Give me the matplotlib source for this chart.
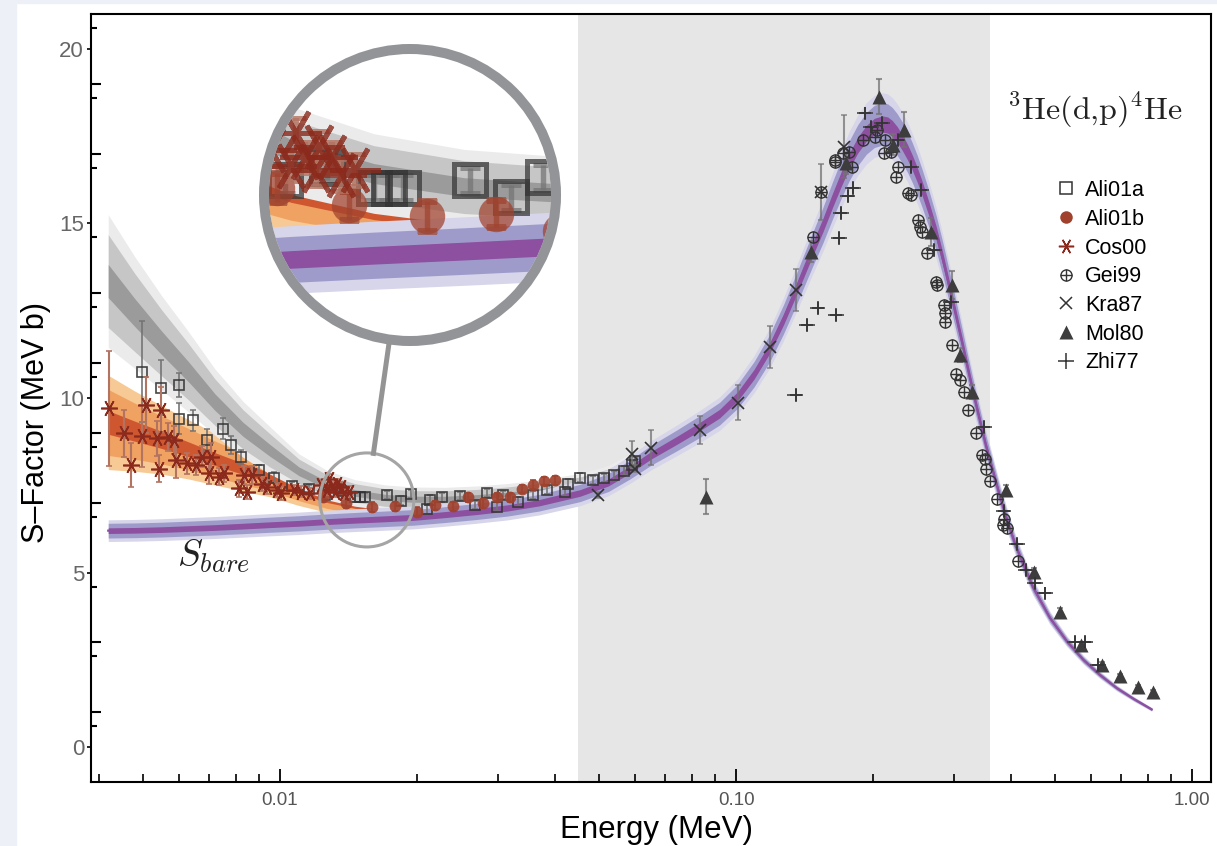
import matplotlib
matplotlib.use('Agg')
import matplotlib.pyplot as plt
import numpy as np
from matplotlib.lines import Line2D
from matplotlib.patches import Circle, Ellipse, Rectangle
from matplotlib.ticker import NullFormatter

plt.rcParams['font.family'] = ['Liberation Sans', 'DejaVu Sans']

W, H = 1217, 846

# fitted S-factor curves on a common energy grid (MeV)
E_FIT = [0.0042, 0.0048, 0.0055, 0.0063, 0.0072, 0.0083, 0.0095, 0.011, 0.0127, 0.0146,
         0.017, 0.0196, 0.023, 0.027, 0.0315, 0.037, 0.0455, 0.0525, 0.0585, 0.0653,
         0.074, 0.0832, 0.092, 0.1008, 0.1095, 0.1184, 0.127, 0.1356, 0.147, 0.155,
         0.1626, 0.17, 0.1771, 0.185, 0.193, 0.201, 0.2092, 0.215, 0.22, 0.2255,
         0.2314, 0.2375, 0.2433, 0.2495, 0.2559, 0.265, 0.2747, 0.284, 0.2933, 0.303,
         0.3131, 0.324, 0.336, 0.3533, 0.3785, 0.395, 0.411, 0.4477, 0.4878, 0.5314,
         0.5775, 0.6276, 0.6838, 0.7447, 0.8154]
S_BARE = [6.20, 6.21, 6.23, 6.26, 6.29, 6.33, 6.37, 6.41, 6.46, 6.50,
          6.54, 6.58, 6.66, 6.75, 6.85, 7.00, 7.28, 7.58, 7.95, 8.37,
          8.78, 9.18, 9.55, 10.05, 10.68, 11.42, 12.25, 13.12, 14.24, 14.95,
          15.65, 16.27, 16.80, 17.25, 17.58, 17.78, 17.85, 17.82, 17.72, 17.55,
          17.32, 17.05, 16.75, 16.40, 16.00, 15.40, 14.72, 13.98, 13.20, 12.40,
          11.58, 10.70, 9.80, 8.62, 7.20, 6.40, 5.74, 4.58, 3.70, 3.03,
          2.50, 2.07, 1.69, 1.38, 1.08]
BARE_REL = [0.013, 0.034, 0.05]          # core, inner, outer relative half widths

# screened fit to Ali01b / Cos00 (orange), first grid points only
S_COS = [9.30, 9.05, 8.80, 8.53, 8.25, 7.97, 7.72, 7.38, 7.10, 6.92,
         6.80, 6.76, 6.78, 6.84, 6.92, 7.05]
S_COS_W = [1.35, 1.15, 0.98, 0.85, 0.74, 0.64, 0.55, 0.46, 0.38, 0.32,
           0.27, 0.24, 0.22, 0.20, 0.20, 0.20]
# screened fit to Ali01a (gray)
S_ALI = [13.35, 12.45, 11.58, 10.75, 9.88, 9.10, 8.50, 7.90, 7.50, 7.28,
         7.15, 7.10, 7.10, 7.15, 7.22, 7.32, 7.50, 7.72, 8.03]
S_ALI_W = [1.9, 1.6, 1.35, 1.15, 0.95, 0.80, 0.68, 0.50, 0.42, 0.38,
           0.36, 0.35, 0.34, 0.33, 0.33, 0.33, 0.34, 0.35, 0.37]
BAND_FRAC = [0.25, 0.7, 1.0]

E_ALI01A = [0.00499, 0.00548, 0.00601, 0.00599, 0.00644, 0.00690, 0.00751, 0.00779,
            0.00819, 0.00899, 0.00969, 0.01063, 0.01160, 0.01255, 0.01348, 0.01458,
            0.01497, 0.01533, 0.01716, 0.01838, 0.0194, 0.02099, 0.02134, 0.02264,
            0.02483, 0.02679, 0.0284, 0.02987, 0.03088, 0.03331, 0.03591, 0.03843,
            0.04214, 0.04285, 0.04545, 0.0485, 0.0513, 0.0539, 0.0567, 0.0591, 0.0600]
S_ALI01A = [10.75, 10.30, 10.37, 9.41, 9.36, 8.81, 9.12, 8.66,
            8.31, 7.93, 7.72, 7.48, 7.38, 7.22, 7.34, 7.15,
            7.15, 7.15, 7.22, 7.06, 7.25, 6.81, 7.09, 7.15,
            7.19, 6.93, 7.27, 6.89, 7.22, 7.03, 7.22, 7.36,
            7.32, 7.55, 7.72, 7.65, 7.70, 7.78, 7.92, 8.08, 8.20]
D_ALI01A = [1.45, 0.80, 0.35, 0.45, 0.30, 0.30, 0.30, 0.25,
            0.20, 0.15, 0.15, 0.12, 0.12, 0.12, 0.12, 0.12,
            0.12, 0.12, 0.12, 0.12, 0.12, 0.12, 0.12, 0.12,
            0.12, 0.12, 0.12, 0.12, 0.12, 0.12, 0.12, 0.12,
            0.12, 0.12, 0.12, 0.12, 0.12, 0.12, 0.12, 0.12, 0.12]

E_ALI01B = [0.01240, 0.01398, 0.01594, 0.01790, 0.01996, 0.02189, 0.02397, 0.02589,
            0.02792, 0.02987, 0.03193, 0.03389, 0.03591, 0.03793, 0.03998]
S_ALI01B = [7.15, 6.98, 6.88, 6.90, 6.74, 6.93, 6.90, 7.15,
            6.98, 7.16, 7.15, 7.39, 7.52, 7.62, 7.64]
D_ALI01B = [0.14, 0.14, 0.14, 0.13, 0.13, 0.13, 0.13, 0.12,
            0.12, 0.12, 0.12, 0.12, 0.12, 0.12, 0.12]

E_COS00 = [0.00422, 0.00455, 0.00471, 0.00498, 0.00508, 0.00538, 0.00543, 0.00548,
           0.00568, 0.00586, 0.00590, 0.00624, 0.00653, 0.00676, 0.00705, 0.00699,
           0.00735, 0.00753, 0.00812, 0.00833, 0.00869, 0.00848, 0.00914, 0.00937,
           0.00986, 0.01003, 0.01072, 0.01109, 0.01166, 0.01227, 0.01269, 0.0128,
           0.0130, 0.01323, 0.0133, 0.0136, 0.01379, 0.01414]
S_COS00 = [9.70, 8.99, 8.08, 8.91, 9.80, 8.84, 7.98, 9.67,
           8.89, 8.80, 8.22, 8.13, 8.08, 8.32, 8.32, 7.84,
           7.75, 7.84, 7.41, 7.79, 7.79, 7.32, 7.55, 7.46,
           7.36, 7.27, 7.36, 7.32, 7.27, 7.51, 7.36, 7.67,
           7.44, 7.32, 7.54, 7.44, 7.27, 7.32]
D_COS00 = [1.65, 0.67, 0.62, 0.90, 0.80, 0.50, 0.40, 0.65,
           0.40, 0.40, 0.50, 0.30, 0.30, 0.30, 0.40, 0.30,
           0.25, 0.25, 0.25, 0.25, 0.25, 0.20, 0.20, 0.20,
           0.20, 0.20, 0.15, 0.15, 0.15, 0.15, 0.15, 0.15,
           0.15, 0.15, 0.15, 0.15, 0.15, 0.15]

E_GEI99 = [0.1473, 0.1536, 0.1645, 0.1651, 0.1713, 0.1771, 0.1796, 0.1895, 0.2019, 0.2037,
           0.2124, 0.2114, 0.2186, 0.2260, 0.2241, 0.2388, 0.2417, 0.2500, 0.2530, 0.2555,
           0.2628, 0.2742, 0.2751, 0.2859, 0.2874, 0.2874, 0.2981, 0.3032, 0.3094, 0.3162,
           0.3231, 0.3364, 0.3468, 0.3520, 0.3533, 0.3610, 0.3735, 0.3849, 0.3862, 0.3926,
           0.4151]
S_GEI99 = [14.62, 15.91, 16.82, 16.77, 17.01, 17.06, 16.63, 17.39, 17.49, 17.68,
           17.39, 17.01, 17.06, 16.63, 16.34, 15.87, 15.82, 15.10, 14.91, 14.76,
           14.15, 13.33, 13.24, 12.66, 12.43, 12.19, 11.52, 10.70, 10.52, 10.18,
           9.66, 8.99, 8.37, 8.24, 7.98, 7.62, 7.11, 6.36, 6.53, 6.29,
           5.34]

E_KRA87 = [0.0498, 0.0590, 0.0600, 0.0652, 0.0832, 0.1009, 0.1188, 0.1354, 0.1536, 0.1722]
S_KRA87 = [7.22, 8.40, 7.98, 8.58, 9.08, 9.87, 11.47, 13.10, 15.91, 17.20]
D_KRA87 = [0.08, 0.37, 0.10, 0.50, 0.40, 0.50, 0.60, 0.60, 0.80, 0.90]

E_MOL80 = [0.0858, 0.1461, 0.1741, 0.2061, 0.2203, 0.2337, 0.2675, 0.2981, 0.3094,
           0.3287, 0.3902, 0.4505, 0.5133, 0.5708, 0.6339, 0.6934, 0.7613, 0.8196]
S_MOL80 = [7.17, 14.19, 16.72, 18.63, 17.25, 17.68, 14.76, 13.24, 11.23,
           10.18, 7.36, 5.02, 3.88, 2.92, 2.35, 2.03, 1.73, 1.58]
D_MOL80 = [0.50, 0.30, 0.30, 0.50, 0.30, 0.50, 0.40, 0.40, 0.20,
           0.20, 0.15, 0.10, 0.10, 0.10, 0.08, 0.06, 0.05, 0.05]

E_ZHI77 = [0.1350, 0.1429, 0.1510, 0.1656, 0.1684, 0.1699, 0.1757, 0.1808, 0.1920, 0.1976,
           0.2089, 0.2260, 0.2417, 0.2543, 0.2719, 0.2958, 0.3498, 0.3862, 0.4130, 0.4332,
           0.4519, 0.4757, 0.5537, 0.5823, 0.6232]
S_ZHI77 = [10.09, 12.09, 12.57, 12.38, 14.57, 15.29, 15.79, 16.01, 18.15, 17.77,
           17.87, 17.39, 16.63, 15.96, 14.24, 12.76, 9.18, 6.77, 5.83, 5.07,
           4.69, 4.40, 3.02, 3.02, 2.35]
ZHI_XREL = 0.04
ZHI_YERR = 0.2

GRAY_REGION = (0.0451, 0.36)
ZOOM_E, ZOOM_S = 0.0155, 7.08

PURPLE = ['#8d4f9f', '#9e9bcb', '#d6d5ea']
ORANGE = ['#cf5730', '#f0a262', '#f7c994']
GRAY = ['#9b9b9b', '#c6c6c6', '#ebebeb']
DARK = '#333333'
BROWN = '#a0412d'
RUST = '#8b2a1c'


def draw_fits(a):
    e = np.array(E_FIT)
    sb = np.array(S_BARE)
    n = len(S_COS)
    sc = np.array(S_COS)
    for frac, col in zip(BAND_FRAC[::-1], ORANGE[::-1]):
        w = frac * np.array(S_COS_W)
        a.fill_between(e[:n], sc - w, sc + w, color=col, lw=0, zorder=1)
    n = len(S_ALI)
    sa = np.array(S_ALI)
    for frac, col in zip(BAND_FRAC[::-1], GRAY[::-1]):
        w = frac * np.array(S_ALI_W)
        a.fill_between(e[:n], sa - w, sa + w, color=col, lw=0, zorder=2)
    for rel, col in zip(BARE_REL[::-1], PURPLE[::-1]):
        a.fill_between(e, sb * (1 - rel), sb * (1 + rel), color=col, lw=0, zorder=3)
    a.plot(e, sb, color=PURPLE[0], lw=1.6, zorder=3.1)


def draw_data(a, k=1.0, alpha=1.0):
    eb_gray = (0.45, 0.45, 0.45, 0.75 * alpha)
    a.errorbar(E_ALI01A, S_ALI01A, yerr=D_ALI01A, ls='none', marker='s', ms=7.5 * k,
               mfc='none', mec=DARK, mew=1.2 * k, ecolor=eb_gray, elinewidth=1.3 * k,
               capsize=2.5 * k, capthick=1.3 * k, alpha=0.9 * alpha, zorder=5)
    a.errorbar(E_ALI01B, S_ALI01B, yerr=D_ALI01B, ls='none', marker='o', ms=8.5 * k,
               mfc=BROWN, mec='none', ecolor=(0.62, 0.3, 0.22, 0.8 * alpha),
               elinewidth=1.3 * k, capsize=2.5 * k, capthick=1.3 * k,
               alpha=0.9 * alpha, zorder=6)
    a.errorbar(E_COS00, S_COS00, yerr=D_COS00, ls='none', marker=(6, 2, 90), ms=12 * k,
               mec=RUST, mew=1.2 * k, ecolor=(0.7, 0.45, 0.38, 0.85 * alpha),
               elinewidth=1.5 * k, capsize=2.5 * k, capthick=1.5 * k,
               alpha=alpha, zorder=7)
    a.errorbar(E_KRA87, S_KRA87, yerr=D_KRA87, ls='none', marker='x', ms=9 * k,
               mec=DARK, mew=1.2 * k, ecolor=eb_gray, elinewidth=1.5 * k,
               capsize=2.5 * k, capthick=1.5 * k, zorder=6)
    a.errorbar(E_MOL80, S_MOL80, yerr=D_MOL80, ls='none', marker='^', ms=9.5 * k,
               mfc='#3d3d3d', mec='none', ecolor=eb_gray, elinewidth=1.5 * k,
               capsize=2.5 * k, capthick=1.5 * k, zorder=6)
    a.plot(E_GEI99, S_GEI99, ls='none', marker='o', ms=8 * k, mfc='none', mec=DARK,
           mew=1.0 * k, zorder=6)
    a.plot(E_GEI99, S_GEI99, ls='none', marker='+', ms=8 * k, mec=DARK,
           mew=1.0 * k, zorder=6)
    e = np.array(E_ZHI77)
    a.errorbar(e, S_ZHI77, xerr=ZHI_XREL * e, yerr=ZHI_YERR, ls='none', marker='+',
               ms=9 * k, mec=DARK, mew=1.2 * k, ecolor='#444444', elinewidth=1.2 * k,
               capsize=0, zorder=6)


fig = plt.figure(figsize=(W / 100, H / 100), dpi=100)
fig.add_artist(Rectangle((0, 0), 16 / W, 1, transform=fig.transFigure,
                         color='#edf0f6', zorder=-1))
fig.add_artist(Rectangle((0, 1 - 3 / H), 1, 3 / H, transform=fig.transFigure,
                         color='#edf0f6', zorder=-1))

ax = fig.add_axes([91 / W, 1 - 782 / H, 1120 / W, 768 / H])
ax.set_xscale('log')
ax.set_xlim(0.00385, 1.10)
ax.set_ylim(-1.0, 21.0)

ax.axvspan(*GRAY_REGION, color='#e6e6e6', lw=0, zorder=0)
draw_fits(ax)
draw_data(ax)

ax.set_xticks([0.01, 0.1, 1.0], ['0.01', '0.10', '1.00'])
ax.xaxis.set_minor_formatter(NullFormatter())
ax.tick_params(axis='x', which='major', direction='in', length=9.5, width=1.3,
               labelsize=13.5, labelcolor='#555555', pad=7)
ax.tick_params(axis='x', which='minor', direction='in', length=5.5, width=1.2)
ax.set_yticks([0, 5, 10, 15, 20])
ax.set_yticks(np.arange(1, 21, 2), minor=True)
ax.tick_params(axis='y', which='major', direction='out', length=3, width=1.2,
               labelsize=16, labelcolor='#666666', pad=2)
ax.tick_params(axis='y', which='minor', direction='in', length=7.5, width=1.5)
sec = ax.secondary_yaxis('left')
sec.set_yticks(np.arange(0.6, 21, 2))
sec.tick_params(direction='in', length=4.5, width=1.5, labelleft=False)
sec.spines['left'].set_visible(False)
for sp in ax.spines.values():
    sp.set_linewidth(1.5)

ax.set_xlabel('Energy (MeV)', fontsize=22.5)
ax.xaxis.set_label_coords(0.505, -0.043)
ax.set_ylabel('S\u2013Factor (MeV b)', fontsize=22)
ax.yaxis.set_label_coords(-0.036, 0.468)

ax.text(0.00595, 5.16, r'$S_{bare}$', fontsize=27, math_fontfamily='cm',
        va='baseline', color='#222222')
fig.text(1095 / W, 1 - 110 / H, r'$^{3}\mathrm{He(d{,}p)}^{4}\mathrm{He}$',
         ha='center', va='center', fontsize=23, math_fontfamily='cm', color='#222222')

handles = [
    Line2D([], [], ls='none', marker='s', ms=8.5, mfc='none', mec=DARK, mew=1.1),
    Line2D([], [], ls='none', marker='o', ms=9, mfc=BROWN, mec='none'),
    Line2D([], [], ls='none', marker=(6, 2, 90), ms=11, mec=RUST, mew=1.1),
    (Line2D([], [], ls='none', marker='o', ms=8, mfc='none', mec=DARK, mew=1.0),
     Line2D([], [], ls='none', marker='+', ms=8, mec=DARK, mew=1.0)),
    Line2D([], [], ls='none', marker='x', ms=9, mec=DARK, mew=1.1),
    Line2D([], [], ls='none', marker='^', ms=10, mfc='#3d3d3d', mec='none'),
    Line2D([], [], ls='none', marker='+', ms=11, mec=DARK, mew=1.1),
]
labels = ['Ali01a', 'Ali01b', 'Cos00', 'Gei99', 'Kra87', 'Mol80', 'Zhi77']
ax.legend(handles, labels, loc='upper left', bbox_to_anchor=(1055 / W, 1 - 180 / H),
          bbox_transform=fig.transFigure, frameon=False, fontsize=15.5,
          handlelength=1.0, handletextpad=0.4, labelspacing=0.36,
          borderpad=0, borderaxespad=0)

# magnified window drawn as a circular inset
IN_C = (410, 195)
IN_R = 141
ZOOM_R = 47
cx, cy = ax.transData.transform((ZOOM_E, ZOOM_S))
inv = ax.transData.inverted()
e_lo, s_lo = inv.transform((cx - ZOOM_R, cy - ZOOM_R))
e_hi, s_hi = inv.transform((cx + ZOOM_R, cy + ZOOM_R))
mag = IN_R / ZOOM_R

ins = fig.add_axes([(IN_C[0] - IN_R) / W, 1 - (IN_C[1] + IN_R) / H, 2 * IN_R / W, 2 * IN_R / H])
ins.set_xscale('log')
ins.set_xlim(e_lo, e_hi)
ins.set_ylim(s_lo, s_hi)
ins.axis('off')
ins.add_patch(Circle((0.5, 0.5), 0.5, transform=ins.transAxes, fc='white', ec='none', zorder=0))
draw_fits(ins)
draw_data(ins, k=mag, alpha=0.8)
clip = Circle((0.5, 0.5), 0.5, transform=ins.transAxes)
for art in ins.get_children():
    art.set_clip_path(clip)

ring_r = IN_R + 5
fig.add_artist(Ellipse((IN_C[0] / W, 1 - IN_C[1] / H), 2 * ring_r / W, 2 * ring_r / H,
                       transform=fig.transFigure, fill=False, ec='#929497', lw=7.2, zorder=3))
fig.add_artist(Ellipse((cx / W, cy / H), 2 * ZOOM_R / W, 2 * ZOOM_R / H,
                       transform=fig.transFigure, fill=False, ec='#a5a5a5', lw=2.2, zorder=3))
big = np.array([IN_C[0], H - IN_C[1]])
small = np.array([cx, cy])
u = (big - small) / np.hypot(*(big - small))
p0 = small + u * ZOOM_R
p1 = big - u * (ring_r + 5)
fig.add_artist(Line2D([p0[0] / W, p1[0] / W], [p0[1] / H, p1[1] / H],
                      transform=fig.transFigure, color='#949494', lw=3.6, zorder=3))

fig.savefig('out.png', dpi=100)
